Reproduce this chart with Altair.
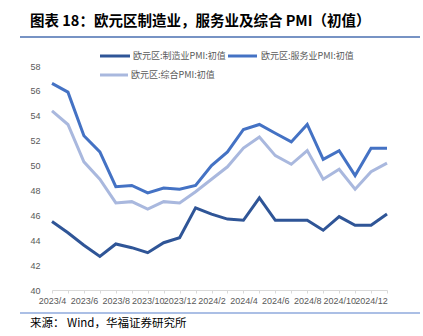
import altair as alt
import pandas as pd

months = ["2023/4", "2023/5", "2023/6", "2023/7", "2023/8", "2023/9", "2023/10", "2023/11",
          "2023/12", "2024/1", "2024/2", "2024/3", "2024/4", "2024/5", "2024/6", "2024/7",
          "2024/8", "2024/9", "2024/10", "2024/11", "2024/12", "2025/1"]
manufacturing = [45.5, 44.6, 43.6, 42.7, 43.7, 43.4, 43.0, 43.8, 44.2, 46.6, 46.1, 45.7,
                 45.6, 47.4, 45.6, 45.6, 45.6, 44.8, 45.9, 45.2, 45.2, 46.1]
services = [56.6, 55.9, 52.4, 51.1, 48.3, 48.4, 47.8, 48.2, 48.1, 48.4, 50.0, 51.1,
            52.9, 53.3, 52.6, 51.9, 53.3, 50.5, 51.2, 49.2, 51.4, 51.4]
composite = [54.4, 53.3, 50.3, 48.9, 47.0, 47.1, 46.5, 47.1, 47.0, 47.9, 48.9, 49.9,
             51.4, 52.3, 50.8, 50.1, 51.2, 48.9, 49.7, 48.1, 49.5, 50.2]
series_names = ["欧元区:制造业PMI:初值", "欧元区:服务业PMI:初值", "欧元区:综合PMI:初值"]
colors = ["#2F5597", "#4472C4", "#A9B8DE"]
y_ticks = [40, 42, 44, 46, 48, 50, 52, 54, 56, 58]
title_text = "图表 18：欧元区制造业，服务业及综合 PMI（初值）"
source_text = "来源：  Wind，华福证券研究所"

rows = []
for name, vals in zip(series_names, [manufacturing, services, composite]):
    for i, (m, v) in enumerate(zip(months, vals)):
        rows.append({"month": m, "idx": i, "series": name, "value": v})
df = pd.DataFrame(rows)

W, H = 335, 224
LEFT, TOP = 52, 66

lines = alt.Chart(df).mark_line(strokeWidth=3).encode(
    x=alt.X("month:O", sort=months, title=None,
            scale=alt.Scale(type="point", padding=0),
            axis=alt.Axis(labelAngle=0, labelOverlap=False,
                          labelExpr="toNumber(split(datum.label,'/')[1]) % 2 == 0 ? datum.label : ''",
                          labelFont="Liberation Sans", labelFontSize=9, labelColor="#595959",
                          domainColor="#D9D9D9", tickColor="#D9D9D9", tickSize=3,
                          labelPadding=3, grid=False)),
    y=alt.Y("value:Q", title=None,
            scale=alt.Scale(domain=[40, 58], zero=False, nice=False),
            axis=alt.Axis(values=y_ticks, grid=False, domain=False, ticks=False,
                          labelFont="Liberation Sans", labelFontSize=9, labelColor="#595959",
                          labelPadding=12)),
    color=alt.Color("series:N", scale=alt.Scale(domain=series_names, range=colors), legend=None),
    order=alt.Order("idx:Q"),
)

def txt(s, x, y, size, color, weight="normal", font="Noto Sans CJK SC"):
    return alt.Chart(pd.DataFrame({"t": [s]})).mark_text(
        align="left", baseline="middle", fontSize=size, color=color,
        fontWeight=weight, font=font
    ).encode(text="t:N", x=alt.value(x), y=alt.value(y))

def rule(x1, x2, y, color, width):
    return alt.Chart(pd.DataFrame({"a": [0]})).mark_rule(color=color, strokeWidth=width).encode(
        x=alt.value(x1), x2=alt.value(x2), y=alt.value(y))

layers = [
    txt(title_text, 30 - LEFT, 22 - TOP, 14.5, "#000000", weight="bold"),
    rule(20 - LEFT, 420 - LEFT, 37 - TOP, "#4A6FB0", 1.5),
    rule(20 - LEFT, 420 - LEFT, 313 - TOP, "#8FAADC", 1.5),
    txt(source_text, 30 - LEFT, 324 - TOP, 11.5, "#000000"),
    # legend
    rule(100 - LEFT, 130 - LEFT, 56 - TOP, colors[0], 3),
    txt(series_names[0], 133 - LEFT, 56 - TOP, 9, "#595959"),
    rule(228 - LEFT, 257 - LEFT, 56 - TOP, colors[1], 3),
    txt(series_names[1], 261 - LEFT, 56 - TOP, 9, "#595959"),
    rule(100 - LEFT, 128 - LEFT, 75 - TOP, colors[2], 3),
    txt(series_names[2], 131 - LEFT, 75 - TOP, 9, "#595959"),
]

chart = alt.layer(lines, *layers).properties(
    width=W, height=H,
    autosize=alt.AutoSizeParams(type="none"),
    padding={"left": LEFT, "top": TOP, "right": 423 - LEFT - W, "bottom": 336 - TOP - H},
    background="white",
).configure_view(stroke=None)

chart.save("out.html", embed_options={"renderer": "svg", "actions": False})
